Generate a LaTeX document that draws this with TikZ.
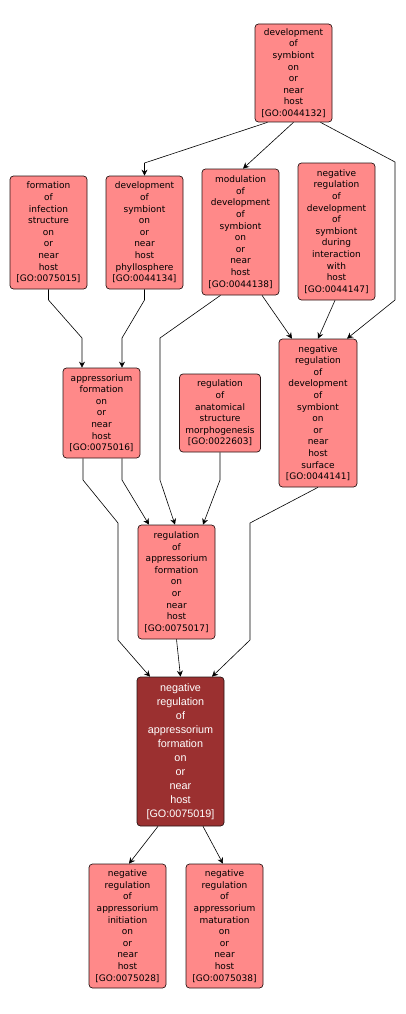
\documentclass[tikz,border=0pt]{standalone}
\usepackage{fontspec}
\setmainfont{DejaVu Sans}
\newfontfamily\darkfont{Liberation Sans}
\usetikzlibrary{arrows.meta,calc}
\definecolor{gopink}{RGB}{255,137,137}
\definecolor{godark}{RGB}{155,48,48}
\definecolor{goline}{RGB}{40,20,20}
\tikzset{
  gobox/.style={draw=goline, fill=gopink, rounded corners=3.5pt, align=center,
    font=\fontsize{9}{11.6}\selectfont, inner sep=1pt, line width=0.7pt,
    minimum width=77pt, text=black},
  godarkbox/.style={gobox, fill=godark, text=white,
    font=\darkfont\fontsize{10.8}{14}\selectfont},
  edge/.style={draw=black, line width=0.6pt, -{Stealth[length=6pt,width=6pt,inset=2pt]}}
}
\begin{document}
\begin{tikzpicture}[x=1pt,y=-1pt]
\useasboundingbox (0,0) rectangle (405,1014);
\node[gobox, minimum height=98pt] (n44132) at (293.5,73) {development\\of\\symbiont\\on\\or\\near\\host\\{}[GO:0044132]};
\node[gobox, minimum height=113pt] (n75015) at (48.5,232.5) {formation\\of\\infection\\structure\\on\\or\\near\\host\\{}[GO:0075015]};
\node[gobox, minimum height=113pt] (n44134) at (144.5,232.5) {development\\of\\symbiont\\on\\or\\near\\host\\phyllosphere\\{}[GO:0044134]};
\node[gobox, minimum height=126pt] (n44138) at (240.5,232) {modulation\\of\\development\\of\\symbiont\\on\\or\\near\\host\\{}[GO:0044138]};
\node[gobox, minimum height=137pt] (n44147) at (336.5,231.5) {negative\\regulation\\of\\development\\of\\symbiont\\during\\interaction\\with\\host\\{}[GO:0044147]};
\node[gobox, minimum height=90pt] (n75016) at (101.5,413) {appressorium\\formation\\on\\or\\near\\host\\{}[GO:0075016]};
\node[gobox, minimum height=78pt, minimum width=81pt] (n22603) at (220,413) {regulation\\of\\anatomical\\structure\\morphogenesis\\{}[GO:0022603]};
\node[gobox, minimum height=148pt, minimum width=78pt] (n44141) at (318,413) {negative\\regulation\\of\\development\\of\\symbiont\\on\\or\\near\\host\\surface\\{}[GO:0044141]};
\node[gobox, minimum height=114pt] (n75017) at (176.5,582) {regulation\\of\\appressorium\\formation\\on\\or\\near\\host\\{}[GO:0075017]};
\node[godarkbox, minimum height=149pt, minimum width=87pt] (n75019) at (180.5,751.5) {negative\\regulation\\of\\appressorium\\formation\\on\\or\\near\\host\\{}[GO:0075019]};
\node[gobox, minimum height=124pt] (n75028) at (127.5,926) {negative\\regulation\\of\\appressorium\\initiation\\on\\or\\near\\host\\{}[GO:0075028]};
\node[gobox, minimum height=124pt] (n75038) at (224.5,926) {negative\\regulation\\of\\appressorium\\maturation\\on\\or\\near\\host\\{}[GO:0075038]};

\draw[edge] ($(n44132.south)+(-26,0)$) -- (144.5,163) -- (n44134.north);
\draw[edge] (n44132.south) -- ($(n44138.north)+(2.5,0)$);
\draw[edge] ($(n44132.south)+(27,0)$) -- (395,162) -- (395,300) -- ($(n44141.north)+(29,0)$);
\draw[edge] (n75015.south) -- (48.5,300) -- (82,338) -- ($(n75016.north)+(-19.5,0)$);
\draw[edge] (n44134.south) -- (144.5,300) -- (122,338) -- ($(n75016.north)+(20.5,0)$);
\draw[edge] ($(n44138.south)+(-20,0)$) -- (160,338) -- (160,480) -- ($(n75017.north)+(-1.5,0)$);
\draw[edge] ($(n44138.south)+(21.5,0)$) -- ($(n44141.north)+(-26,0)$);
\draw[edge] ($(n44147.south)+(-1.5,0)$) -- (n44141.north);
\draw[edge] ($(n75016.south)+(-18.5,0)$) -- (83,480) -- (118,523) -- (118,640) -- ($(n75019.north)+(-30.5,0)$);
\draw[edge] ($(n75016.south)+(20.5,0)$) -- (122,480) -- ($(n75017.north)+(-27.5,0)$);
\draw[edge] (n22603.south) -- (220,480) -- ($(n75017.north)+(26.5,0)$);
\draw[edge] (n44141.south) -- (250,523) -- (250,640) -- ($(n75019.north)+(31.5,0)$);
\draw[edge] (n75017.south) -- (n75019.north);
\draw[edge] ($(n75019.south)+(-22.5,0)$) -- ($(n75028.north)+(1.5,0)$);
\draw[edge] ($(n75019.south)+(22.5,0)$) -- ($(n75038.north)+(-1.5,0)$);
\end{tikzpicture}
\end{document}
